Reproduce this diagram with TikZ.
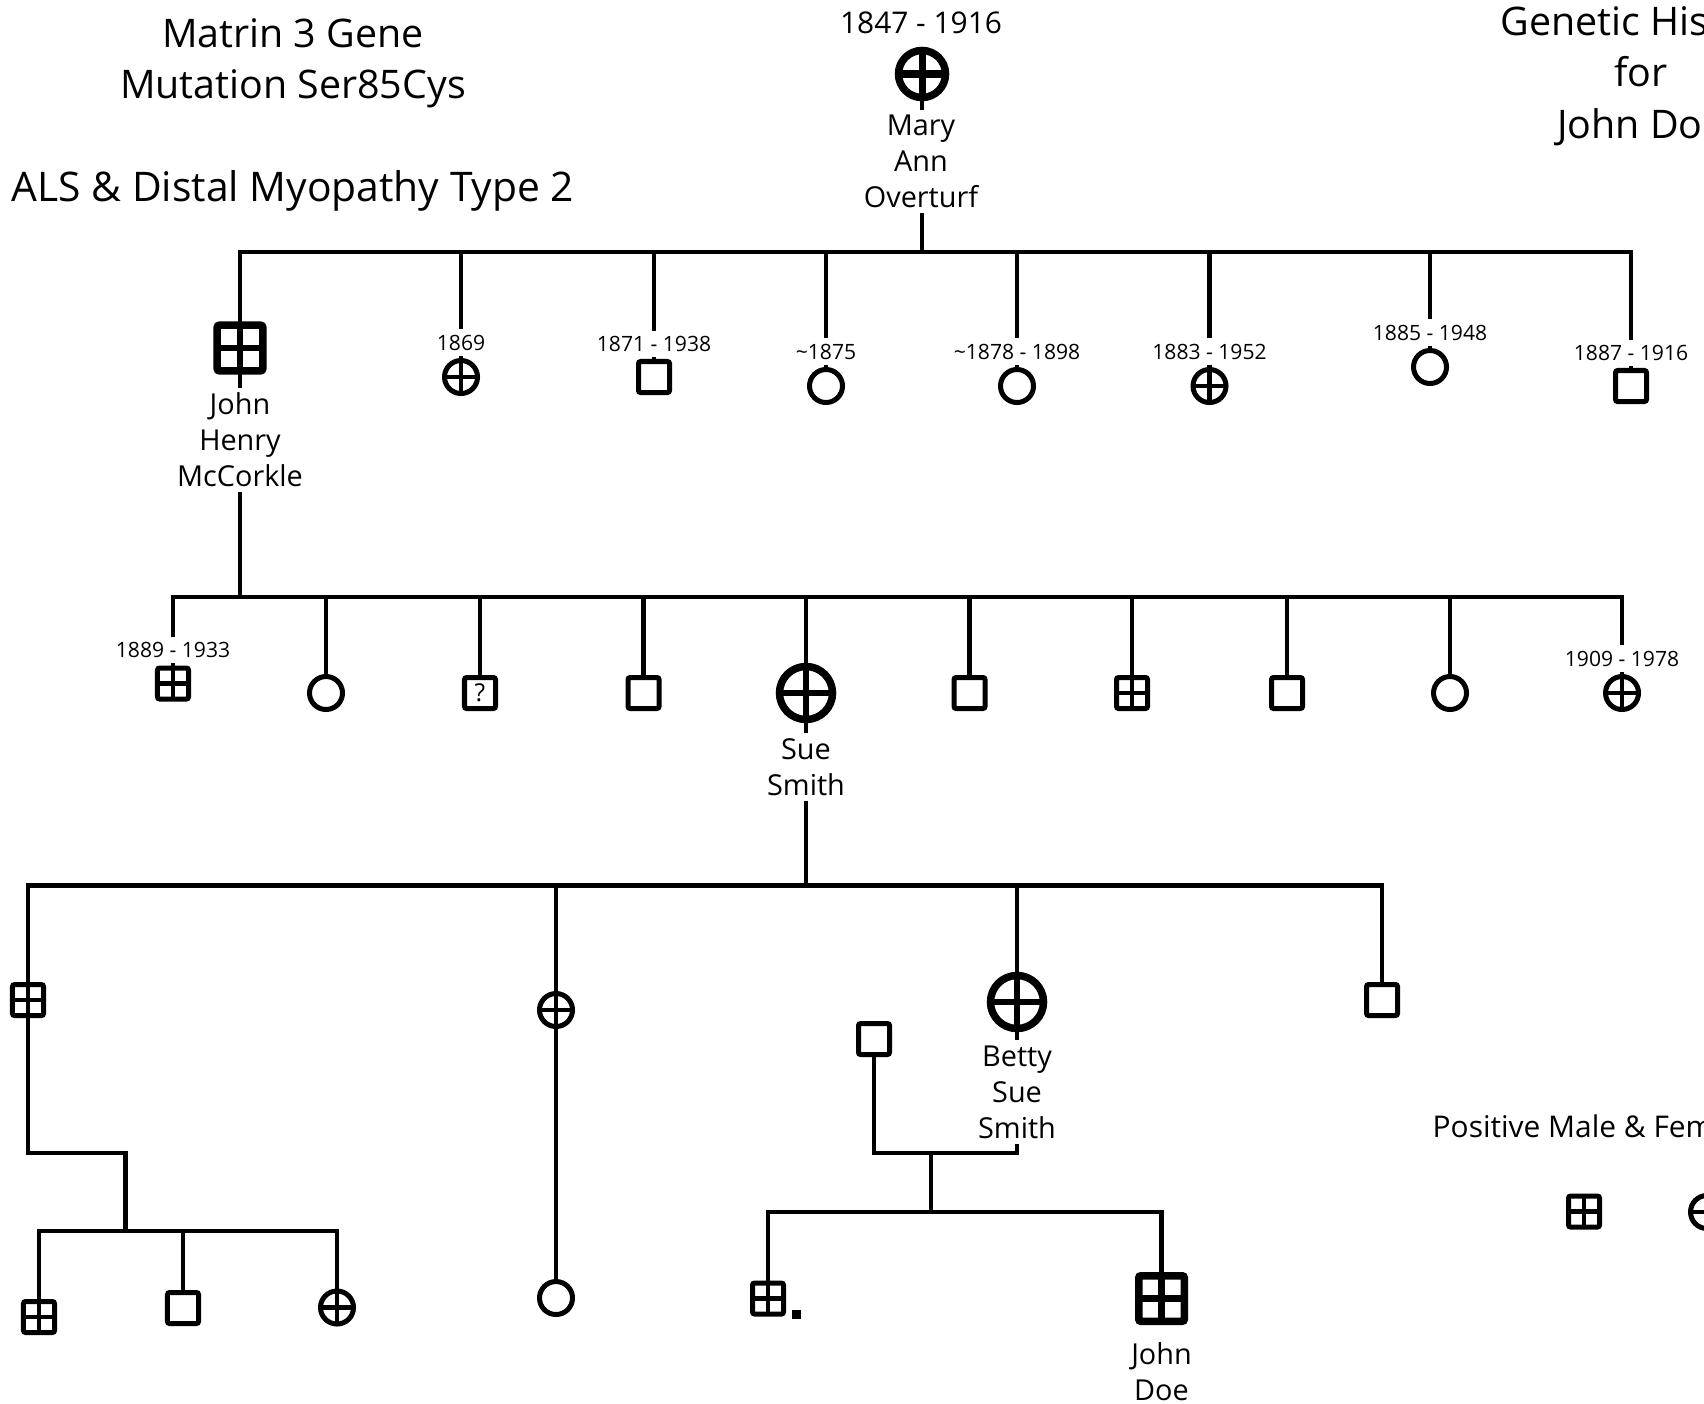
\documentclass[tikz,border=0pt]{standalone}
\usepackage{fontspec}
\setmainfont{Open Sans}
\usetikzlibrary{positioning,backgrounds}

\begin{document}
\begin{tikzpicture}[x=0.01cm, y=-0.01cm,
  link/.style={line width=0.048cm, line cap=rect},
  male/.style={draw, fill=white, rectangle, line width=0.05cm, minimum size=0.31cm,
    inner sep=0pt, rounded corners=0.6pt},
  female/.style={draw, fill=white, circle, line width=0.05cm, minimum size=0.33cm, inner sep=0pt},
  big/.style={line width=0.075cm},
  affected/.style={path picture={\draw[line width=#1]
      (path picture bounding box.north) -- (path picture bounding box.south)
      (path picture bounding box.west) -- (path picture bounding box.east);}},
  affected/.default=0.042cm,
  person/.style={fill=white, align=center, inner sep=1.5pt, font=\fontsize{8.2}{10.24}\selectfont},
  years/.style={fill=white, inner sep=1.5pt, font=\fontsize{6}{7}\selectfont},
  heading/.style={align=center, font=\fontsize{11.2}{14.6}\selectfont}
]
\useasboundingbox (0,0) rectangle (1704,1403);

% headings
\node[heading] (title) at (293,63) {Matrin 3 Gene\\Mutation Ser85Cys};
\node[heading, anchor=base, font=\fontsize{11.6}{14.6}\selectfont] (disease) at (293,201) {ALS \& Distal Myopathy Type 2};
\node[heading] (history) at (1641,76) {Genetic History\\for\\John Doe};

% generation 1
\node[female, big, affected=0.07cm, minimum size=0.47cm] (mary) at (922,74) {};
\node[anchor=base, font=\fontsize{8.5}{10}\selectfont] (maryyears) at (921,33) {1847 - 1916};
\node[person] (maryname) at (921,161.5) {Mary\\Ann\\Overturf};

% generation 2
\coordinate (sib2) at (0,252);
\node[male, big, affected=0.065cm, minimum size=0.455cm] (jhm) at (240,348) {};
\node[person] (jhmname) at (240,440) {John\\Henry\\McCorkle};
\node[female, affected] (c1869) at (461,377) {};
\node[male] (c1871) at (654,377) {};
\node[female] (c1875) at (826,386) {};
\node[female] (c1878) at (1017,386) {};
\node[female, affected] (c1883) at (1209.5,386) {};
\node[female] (c1885) at (1430,367) {};
\node[male] (c1887) at (1631,386) {};
\foreach \n/\t in {c1869/1869, c1871/1871 - 1938, c1875/\textasciitilde1875,
    c1878/\textasciitilde1878 - 1898, c1883/1883 - 1952, c1885/1885 - 1948, c1887/1887 - 1916}
  \node[years, above=0.5pt of \n] {\t};

% generation 3
\coordinate (sib3) at (0,597);
\node[male, affected] (g1889) at (173,683.5) {};
\node[female] (g2) at (326,693) {};
\node[male, font=\fontsize{7}{8}\selectfont] (g3) at (480,693) {?};
\node[male] (g4) at (643.5,693) {};
\node[female, big, affected=0.065cm, minimum size=0.53cm] (sue) at (806,693) {};
\node[male] (g6) at (969.5,693) {};
\node[male, affected] (g7) at (1132,693) {};
\node[male] (g8) at (1287,693) {};
\node[female] (g9) at (1450,693) {};
\node[female, affected] (g1909) at (1622,693) {};
\node[years, above=0.5pt of g1889] {1889 - 1933};
\node[years, above=0.5pt of g1909] {1909 - 1978};
\node[person] (suename) at (806,767) {Sue\\Smith};

% generation 4
\coordinate (sib4) at (0,885.5);
\node[male, affected] (k1) at (28,1000) {};
\node[female, affected] (k2) at (556,1010) {};
\node[female, big, affected=0.065cm, minimum size=0.53cm] (betty) at (1017,1002) {};
\node[person] (bettyname) at (1017,1092) {Betty\\Sue\\Smith};
\node[male] (k4) at (1382,1000) {};
\node[male] (spouse) at (874,1039) {};

% generation 5
\coordinate (fork5a) at (125.5,1153);
\coordinate (sib5a) at (0,1231);
\node[male, affected] (m1) at (39,1317) {};
\node[male] (m2) at (183,1308) {};
\node[female, affected] (m3) at (337,1307.5) {};
\node[female] (k2child) at (556,1298) {};
\coordinate (couple) at (0,1153);
\coordinate (fork5b) at (931,1153);
\coordinate (sib5b) at (0,1212);
\node[male, affected] (n1) at (768,1298.5) {};
\node[fill, minimum size=0.09cm, inner sep=0pt] (n1dot) at (796.5,1314.5) {};
\node[male, big, affected=0.065cm, minimum size=0.455cm] (johndoe) at (1161.5,1298.5) {};
\node[person] (johndoename) at (1161.5,1371.5) {John\\Doe};

% legend
\node[anchor=base west, inner sep=0pt, font=\fontsize{8.5}{10}\selectfont] (legend) at (1432,1137) {Positive Male \& Female};
\node[male, affected] (legm) at (1584,1211.5) {};
\node[female, affected] (legf) at (1707,1212) {};

% lines of descent
\begin{scope}[on background layer={link}]
\draw (mary) -- (mary |- sib2);
\draw (jhm |- sib2) -- (c1887 |- sib2);
\foreach \n in {jhm,c1869,c1871,c1875,c1878,c1883,c1885,c1887}
  \draw (\n |- sib2) -- (\n);
\draw (jhm) -- (jhm |- sib3);
\draw (g1889 |- sib3) -- (g1909 |- sib3);
\foreach \n in {g1889,g2,g3,g4,sue,g6,g7,g8,g9,g1909}
  \draw (\n |- sib3) -- (\n);
\draw (sue) -- (sue |- sib4);
\draw (k1 |- sib4) -- (k4 |- sib4);
\foreach \n in {k1,k2,betty,k4}
  \draw (\n |- sib4) -- (\n);
\draw (k1) |- (fork5a) -- (fork5a |- sib5a);
\draw (m1 |- sib5a) -- (m3 |- sib5a);
\foreach \n in {m1,m2,m3}
  \draw (\n |- sib5a) -- (\n);
\draw (k2) -- (k2child);
\draw (betty) -- (betty |- couple) -- (spouse |- couple) -- (spouse);
\draw (fork5b) -- (fork5b |- sib5b);
\draw (n1 |- sib5b) -- (johndoe |- sib5b);
\foreach \n in {n1,johndoe}
  \draw (\n |- sib5b) -- (\n);
\end{scope}
\end{tikzpicture}
\end{document}
